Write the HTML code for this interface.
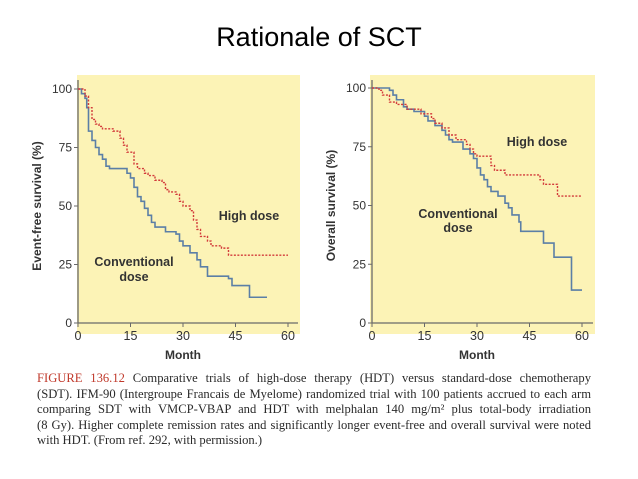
<!DOCTYPE html>
<html><head><meta charset="utf-8"><style>
body{margin:0;width:638px;height:479px;background:#fff;overflow:hidden;position:relative;font-family:"Liberation Sans",sans-serif}
#title{position:absolute;left:0;width:638px;top:22px;text-align:center;font-size:27px;color:#000}
#cap{position:absolute;left:37px;top:371px;width:554px;font-family:"Liberation Serif",serif;font-size:12.6px;line-height:15.5px;color:#2a2a2a;white-space:nowrap}
#cap div{text-align:justify;text-align-last:justify}
#cap div.last{text-align-last:left}
#cap b{color:#c0392b;font-weight:normal}
svg{position:absolute;left:0;top:0}
</style></head><body>
<div id="title">Rationale of SCT</div>
<svg id="chart" width="638" height="370"></svg>
<div id="cap">
<div><b>FIGURE 136.12</b> Comparative trials of high-dose therapy (HDT) versus standard-dose chemotherapy</div>
<div>(SDT). IFM-90 (Intergroupe Francais de Myelome) randomized trial with 100 patients accrued to each arm</div>
<div>comparing SDT with VMCP-VBAP and HDT with melphalan 140 mg/m² plus total-body irradiation</div>
<div>(8 Gy). Higher complete remission rates and significantly longer event-free and overall survival were noted</div>
<div class="last">with HDT. (From ref. 292, with permission.)</div>
</div>
<script>
const xTicks=[0,15,30,45,60];
const yTicks=[0,25,50,75,100];
const efsConvMonths=[0,1,2,2.5,3,4,5,6,7,8,9,14,15,16,17,18,19,20,21,22,25,28,29,30,32,34,35,37,43,44,49,54];
const efsConvValues=[100,98,96,92,82,78,75,72,70,67,66,64,62,58,54,52,49,46,43,41,39,38,35,33,30,27,24,20,19,16,11,11];
const efsHighMonths=[0,2,3,4,5,6,7,10,12,13,14,16,17,19,20,22,24,25,26,28,29,30,32,33,34,35,37,38,41,43,60];
const efsHighValues=[100,97,92,87,85,84,83,82,79,76,73,68,66,64,63,61,60,57,56,55,52,50,48,44,40,37,35,33,32,29,29];
const osConvMonths=[0,5,6,7,9,10,12,15,16,18,20,21,22,23,26,28,29,30,31,32,33,34,36,38,39,40,42,42.5,47,49,51,52,56,57,60];
const osConvValues=[100,99,97,95,92,91,90,88,86,84,82,80,78,77,74,72,70,66,63,61,58,56,54,51,49,46,43,39,39,34,34,28,28,14,14];
const osHighMonths=[0,2,3,5,7,10,14,17,18,20,22,24,27,28,29,30,34,35,38,48,49,53,60];
const osHighValues=[100,99,97,94,93,91,89,87,85,83,80,78,76,74,72,71,67,65,63,61,59,54,54];
const NS="http://www.w3.org/2000/svg";
const svg=document.getElementById('chart');
function mk(tag,attrs,parent){const e=document.createElementNS(NS,tag);for(const k in attrs)e.setAttribute(k,attrs[k]);(parent||svg).appendChild(e);return e;}
function panel(x0,x1,yTop,yBot,bgL,bgR,ylabel,name,conv,high,labels){
  const sx=m=>x0+(x1-x0)*m/60, sy=v=>yBot-(yBot-yTop)*v/100;
  const g=mk('g',{});
  
  
  const bg=mk('rect',{x:bgL,y:75,width:bgR-bgL,height:259,fill:'#fcf3b6'},g);
  
  
  const ax=mk('path',{d:`M${x0} 80V${yBot}H${bgR-2}`,stroke:'#6a6a6a','stroke-width':1.3,fill:'none'},g);
  
  
  xTicks.forEach(t=>{mk('line',{x1:sx(t),x2:sx(t),y1:yBot,y2:yBot+4,stroke:'#6a6a6a'},g);
    const tx=mk('text',{x:sx(t),y:yBot+17,'text-anchor':'middle','font-size':12.5,fill:'#333'},g);tx.textContent=t;
    
    });
  yTicks.forEach(t=>{mk('line',{x1:x0-4,x2:x0,y1:sy(t),y2:sy(t),stroke:'#6a6a6a'},g);
    const tx=mk('text',{x:x0-6,y:sy(t)+4,'text-anchor':'end','font-size':12,fill:'#333'},g);tx.textContent=t;
    
    });
  const xl=mk('text',{x:(x0+x1)/2,y:yBot+36,'text-anchor':'middle','font-size':12,'font-weight':'bold',fill:'#333'},g);xl.textContent='Month';
  
  
  const yl=mk('text',{x:0,y:0,transform:`translate(${x0-37},${(yTop+yBot)/2}) rotate(-90)`,'text-anchor':'middle','font-size':12,'font-weight':'bold',fill:'#333'},g);yl.textContent=ylabel;
  
  
  function step(ms,vs){let d=`M${sx(ms[0])} ${sy(vs[0])}`;for(let i=1;i<ms.length;i++){d+=`H${sx(ms[i])}V${sy(vs[i])}`;}return d;}
  const c=mk('path',{d:step(conv[0],conv[1]),stroke:'#5b7fa6','stroke-width':1.6,fill:'none'},g);
  
  
  const h=mk('path',{d:step(high[0],high[1]),stroke:'#d23a3a','stroke-width':1.4,'stroke-dasharray':'2 1.5',fill:'none'},g);
  
  
  labels.forEach(l=>{const t=mk('text',{x:l[0],y:l[1],'text-anchor':'middle','font-size':12.5,'font-weight':'bold',fill:'#333'},g);t.textContent=l[2];
    
    });
}
panel(78,288,89,323,77,300,'Event-free survival (%)','efs-chart',[efsConvMonths,efsConvValues],[efsHighMonths,efsHighValues],
  [[249,220,'High dose','high-dose-label'],[134,266,'Conventional','conventional-label'],[134,281,'dose','conventional-label']]);
panel(372,582,88,323,370,595,'Overall survival (%)','os-chart',[osConvMonths,osConvValues],[osHighMonths,osHighValues],
  [[537,146,'High dose','high-dose-label'],[458,218,'Conventional','conventional-label'],[458,232,'dose','conventional-label']]);
</script>
</body></html>
